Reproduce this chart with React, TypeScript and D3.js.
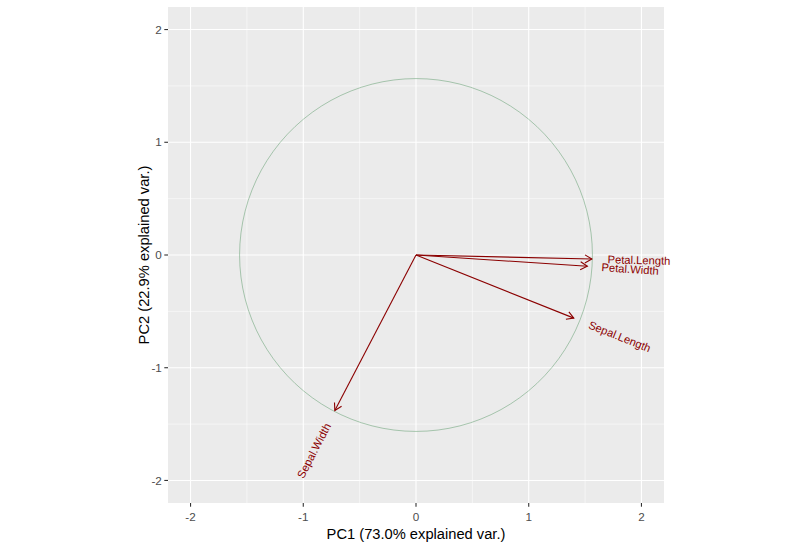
import React, { useEffect, useRef } from 'react';
import * as d3 from 'd3';

// PCA variable loadings (scaled as in ggbiplot)
const varNames = ['Sepal.Length', 'Sepal.Width', 'Petal.Length', 'Petal.Width'];
const pc1 = [1.40, -0.72, 1.56, 1.52];
const pc2 = [-0.56, -1.38, -0.036, -0.10];
const circleRadius = 1.565;
const majorTicks = [-2, -1, 0, 1, 2];
const minorTicks = [-1.5, -0.5, 0.5, 1.5];
const xTitle = 'PC1 (73.0% explained var.)';
const yTitle = 'PC2 (22.9% explained var.)';

const W = 796;
const H = 548;
const panel = { left: 168, right: 664, top: 7, bottom: 503 };
const font = '"Liberation Sans", Arial, sans-serif';

export default function App() {
  const svgRef = useRef<SVGSVGElement>(null);

  useEffect(() => {
    if (!svgRef.current) return;
    const svg = d3.select(svgRef.current);
    svg.selectAll('*').remove();

    const x = d3.scaleLinear().domain([-2.2, 2.2]).range([panel.left, panel.right]);
    const y = d3.scaleLinear().domain([-2.2, 2.2]).range([panel.bottom, panel.top]);

    // panel background
    svg.append('rect')
      .attr('x', panel.left)
      .attr('y', panel.top)
      .attr('width', panel.right - panel.left)
      .attr('height', panel.bottom - panel.top)
      .attr('fill', '#EBEBEB');

    // grid
    const grid = svg.append('g');
    minorTicks.forEach(t => {
      grid.append('line').attr('x1', x(t)).attr('x2', x(t)).attr('y1', panel.top).attr('y2', panel.bottom)
        .attr('stroke', '#fff').attr('stroke-width', 0.55);
      grid.append('line').attr('y1', y(t)).attr('y2', y(t)).attr('x1', panel.left).attr('x2', panel.right)
        .attr('stroke', '#fff').attr('stroke-width', 0.55);
    });
    majorTicks.forEach(t => {
      grid.append('line').attr('x1', x(t)).attr('x2', x(t)).attr('y1', panel.top).attr('y2', panel.bottom)
        .attr('stroke', '#fff').attr('stroke-width', 1.1);
      grid.append('line').attr('y1', y(t)).attr('y2', y(t)).attr('x1', panel.left).attr('x2', panel.right)
        .attr('stroke', '#fff').attr('stroke-width', 1.1);
    });

    // correlation circle
    const circlePts = d3.range(0, 101).map(i => {
      const a = (i / 100) * 2 * Math.PI;
      return [circleRadius * Math.cos(a), circleRadius * Math.sin(a)] as [number, number];
    });
    svg.append('path')
      .datum(circlePts)
      .attr('fill', 'none')
      .attr('stroke', '#5a9a68')
      .attr('stroke-opacity', 0.55)
      .attr('stroke-width', 0.9)
      .attr('d', d3.line<[number, number]>().x(d => x(d[0])).y(d => y(d[1])));

    // arrows
    const data = varNames.map((name, i) => ({ name, xv: pc1[i], yv: pc2[i] }));
    const arrows = svg.append('g');
    data.forEach(d => {
      const x0 = x(0), y0 = y(0), x1 = x(d.xv), y1 = y(d.yv);
      arrows.append('line')
        .attr('x1', x0).attr('y1', y0).attr('x2', x1).attr('y2', y1)
        .attr('stroke', '#8B0000').attr('stroke-width', 1.1);
      const ang = Math.atan2(y1 - y0, x1 - x0);
      const len = 8;
      const spread = Math.PI / 6;
      const p1 = [x1 - len * Math.cos(ang - spread), y1 - len * Math.sin(ang - spread)];
      const p2 = [x1 - len * Math.cos(ang + spread), y1 - len * Math.sin(ang + spread)];
      arrows.append('path')
        .attr('d', `M${p1[0]},${p1[1]}L${x1},${y1}L${p2[0]},${p2[1]}`)
        .attr('fill', 'none')
        .attr('stroke', '#8B0000')
        .attr('stroke-width', 1.1);
    });

    // variable labels
    data.forEach(d => {
      const ax = x(d.xv), ay = y(d.yv);
      const angle = -(180 / Math.PI) * Math.atan(d.yv / d.xv);
      const hjust = (1 - 1.5 * Math.sign(d.xv)) / 2;
      const g = arrows.append('g').attr('transform', `translate(${ax},${ay}) rotate(${angle})`);
      const t = g.append('text')
        .attr('font-family', font)
        .attr('font-size', 11.2)
        .attr('fill', '#8B0000')
        .attr('dy', '0.35em')
        .text(d.name);
      const w = (t.node() as SVGTextElement).getComputedTextLength();
      t.attr('x', -hjust * w);
    });

    // axes ticks + labels
    const axis = svg.append('g');
    majorTicks.forEach(t => {
      axis.append('line').attr('x1', x(t)).attr('x2', x(t)).attr('y1', panel.bottom).attr('y2', panel.bottom + 3.7)
        .attr('stroke', '#333').attr('stroke-width', 1.1);
      axis.append('text')
        .attr('x', x(t)).attr('y', panel.bottom + 17.5)
        .attr('text-anchor', 'middle')
        .attr('font-family', font).attr('font-size', 11.7).attr('fill', '#4D4D4D')
        .text(String(t));
      axis.append('line').attr('y1', y(t)).attr('y2', y(t)).attr('x1', panel.left - 3.7).attr('x2', panel.left)
        .attr('stroke', '#333').attr('stroke-width', 1.1);
      axis.append('text')
        .attr('x', panel.left - 6.2).attr('y', y(t)).attr('dy', '0.35em')
        .attr('text-anchor', 'end')
        .attr('font-family', font).attr('font-size', 11.7).attr('fill', '#4D4D4D')
        .text(String(t));
    });

    // axis titles
    svg.append('text')
      .attr('x', (panel.left + panel.right) / 2)
      .attr('y', 538.5)
      .attr('text-anchor', 'middle')
      .attr('font-family', font).attr('font-size', 14.7).attr('fill', '#000')
      .text(xTitle);
    svg.append('text')
      .attr('transform', `translate(148.5,${(panel.top + panel.bottom) / 2}) rotate(-90)`)
      .attr('text-anchor', 'middle')
      .attr('font-family', font).attr('font-size', 14.7).attr('fill', '#000')
      .text(yTitle);
  }, []);

  return (
    <svg
      ref={svgRef}
      width={W}
      height={H}
      style={{ position: 'absolute', left: 0, top: 0, background: '#fff' }}
    />
  );
}
